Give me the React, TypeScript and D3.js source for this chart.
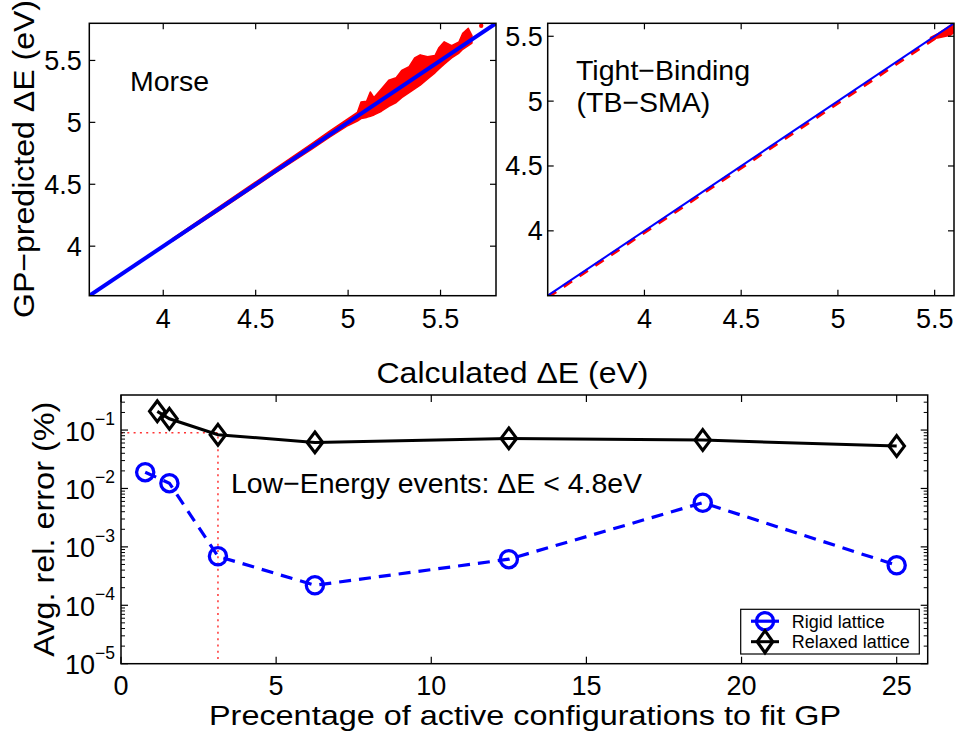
import React from "react";
import * as d3 from "d3";

// ---------- data ----------
// Top-left (Morse): red scatter band (calculated dE, predicted lo/hi)
const morseX = [4.05, 4.3, 4.6, 4.8, 4.9, 5.0, 5.05, 5.07, 5.1, 5.12, 5.14, 5.18, 5.22, 5.26, 5.29, 5.33, 5.36, 5.39, 5.43, 5.47, 5.49, 5.52, 5.56, 5.6, 5.62, 5.65, 5.67];
const morseHi = [4.062, 4.315, 4.62, 4.825, 4.93, 5.03, 5.08, 5.165, 5.17, 5.245, 5.2, 5.27, 5.34, 5.36, 5.42, 5.45, 5.52, 5.545, 5.53, 5.54, 5.6, 5.65, 5.62, 5.65, 5.72, 5.76, 5.7];
const morseLo = [4.04, 4.285, 4.585, 4.78, 4.88, 4.975, 5.01, 5.03, 5.04, 5.05, 5.06, 5.09, 5.13, 5.16, 5.2, 5.24, 5.27, 5.3, 5.35, 5.4, 5.43, 5.47, 5.52, 5.56, 5.59, 5.62, 5.64];
const morseOutX = [5.72];
const morseOutY = [5.78];
const morseDiag = [3.6, 5.8];

// Top-right (TB-SMA)
const tbRedX = [3.5, 5.6];
const tbRedY = [3.49, 5.585];
const tbBandX = [5.48, 5.52, 5.55, 5.58, 5.6];
const tbBandLo = [5.48, 5.49, 5.5, 5.51, 5.53];
const tbBandHi = [5.49, 5.52, 5.55, 5.58, 5.6];
const tbDiag = [3.5, 5.6];

const topTicks = [4, 4.5, 5, 5.5];

// Bottom panel
const pctRigid = [0.78, 1.56, 3.125, 6.25, 12.5, 18.75, 25];
const errRigid = [0.019, 0.0123, 6.9e-4, 2.2e-4, 6.15e-4, 5.7e-3, 4.85e-4];
const pctRelaxed = [1.17, 1.56, 3.125, 6.25, 12.5, 18.75, 25];
const errRelaxed = [0.209, 0.156, 0.083, 0.0615, 0.072, 0.0674, 0.0532];
const guideX = [0, 3.125, 3.125];
const guideY = [0.09, 0.09, 1e-5];
const bottomXTicks = [0, 5, 10, 15, 20, 25];
const bottomYExps = [-5, -4, -3, -2, -1];
const legendLabels = ["Rigid lattice", "Relaxed lattice"];

const FONT = "'Liberation Sans', Arial, Helvetica, sans-serif";

function Frame({ xs, ys, xt, yt, tl, fmt, yLabelGap }: any) {
  const [x0, x1] = xs.range();
  const [y0, y1] = ys.range(); // y0 bottom, y1 top
  const els: any[] = [];
  xt.forEach((v: number, i: number) => {
    const x = xs(v);
    els.push(<line key={"xb" + i} x1={x} x2={x} y1={y0} y2={y0 - tl} stroke="#000" strokeWidth={1.2} />);
    els.push(<line key={"xt" + i} x1={x} x2={x} y1={y1} y2={y1 + tl} stroke="#000" strokeWidth={1.2} />);
    els.push(
      <text key={"xl" + i} x={x} y={y0 + 32.5} textAnchor="middle" fontSize={27} fontFamily={FONT}>
        {fmt(v)}
      </text>
    );
  });
  yt.forEach((v: number, i: number) => {
    const y = ys(v);
    els.push(<line key={"yl" + i} x1={x0} x2={x0 + tl} y1={y} y2={y} stroke="#000" strokeWidth={1.2} />);
    els.push(<line key={"yr" + i} x1={x1} x2={x1 - tl} y1={y} y2={y} stroke="#000" strokeWidth={1.2} />);
    els.push(
      <text key={"ytl" + i} x={x0 - yLabelGap} y={y + 9.5} textAnchor="end" fontSize={27} fontFamily={FONT}>
        {fmt(v)}
      </text>
    );
  });
  return (
    <g>
      {els}
      <rect x={x0} y={y1} width={x1 - x0} height={y0 - y1} fill="none" stroke="#000" strokeWidth={1.5} />
    </g>
  );
}

function diamond(cx: number, cy: number, w: number, h: number) {
  return `M${cx},${cy - h}L${cx + w},${cy}L${cx},${cy + h}L${cx - w},${cy}Z`;
}

export default function App() {
  // Top-left
  const tlX = d3.scaleLinear().domain([3.6, 5.8]).range([89.3, 496]);
  const tlY = d3.scaleLinear().domain([3.6, 5.8]).range([295.7, 23.3]);
  // Top-right
  const trX = d3.scaleLinear().domain([3.5, 5.6]).range([547.7, 954]);
  const trY = d3.scaleLinear().domain([3.5, 5.6]).range([295.7, 23.3]);
  // Bottom
  const bX = d3.scaleLinear().domain([0, 26]).range([121, 927.7]);
  const bY = d3.scaleLog().domain([1e-5, Math.pow(10, -0.4)]).range([663.7, 395]);

  const fmt = (v: number) => String(v);

  const morseArea = d3
    .area<number>()
    .x((_, i) => tlX(morseX[i]))
    .y0((_, i) => tlY(morseLo[i]))
    .y1((_, i) => tlY(morseHi[i]))
    .curve(d3.curveLinear)(morseX);

  const tbArea = d3
    .area<number>()
    .x((_, i) => trX(tbBandX[i]))
    .y0((_, i) => trY(tbBandLo[i]))
    .y1((_, i) => trY(tbBandHi[i]))(tbBandX);

  const lineRigid = d3.line<number>().x((_, i) => bX(pctRigid[i])).y((_, i) => bY(errRigid[i]))(pctRigid);
  const lineRelaxed = d3.line<number>().x((_, i) => bX(pctRelaxed[i])).y((_, i) => bY(errRelaxed[i]))(pctRelaxed);
  const lineGuide = d3.line<number>().x((_, i) => bX(guideX[i])).y((_, i) => bY(guideY[i]))(guideX);

  // minor log ticks
  const minor: number[] = [];
  for (let e = -5; e <= -1; e++) {
    for (let k = 2; k <= 9; k++) {
      const v = k * Math.pow(10, e);
      if (v < bY.domain()[1]) minor.push(v);
    }
  }

  const [bx0, bx1] = bX.range();
  const [by0, by1] = bY.range();

  return (
    <svg
      width={958}
      height={740}
      style={{ position: "absolute", left: 0, top: 0, background: "#fff" }}
      fontFamily={FONT}
    >
      <defs>
        <clipPath id="cTL">
          <rect x={89.3} y={23.3} width={496 - 89.3} height={295.7 - 23.3} />
        </clipPath>
        <clipPath id="cTR">
          <rect x={547.7} y={23.3} width={954 - 547.7} height={295.7 - 23.3} />
        </clipPath>
      </defs>
      <rect x={0} y={0} width={958} height={740} fill="#fff" />

      {/* ---- Top-left: Morse ---- */}
      <g clipPath="url(#cTL)">
        <path d={morseArea || ""} fill="#ff0000" stroke="#ff0000" strokeWidth={1.5} strokeLinejoin="round" />
        {morseOutX.map((v, i) => (
          <circle key={i} cx={tlX(v)} cy={tlY(morseOutY[i])} r={2.2} fill="#ff0000" />
        ))}
        <line
          x1={tlX(morseDiag[0])}
          y1={tlY(morseDiag[0])}
          x2={tlX(morseDiag[1])}
          y2={tlY(morseDiag[1])}
          stroke="#0000ff"
          strokeWidth={4}
        />
      </g>
      <Frame xs={tlX} ys={tlY} xt={topTicks} yt={topTicks} tl={6} fmt={fmt} yLabelGap={7.5} />
      <text x={130} y={91} fontSize={28.5} fontFamily={FONT}>Morse</text>

      {/* ---- Top-right: TB-SMA ---- */}
      <g clipPath="url(#cTR)">
        <line
          x1={trX(tbRedX[0])}
          y1={trY(tbRedY[0])}
          x2={trX(tbRedX[1])}
          y2={trY(tbRedY[1])}
          stroke="#ff0000"
          strokeWidth={3.5}
          strokeDasharray="10 9"
        />
        <path d={tbArea || ""} fill="#ff0000" stroke="#ff0000" strokeWidth={2} />
        <line
          x1={trX(tbDiag[0])}
          y1={trY(tbDiag[0])}
          x2={trX(tbDiag[1])}
          y2={trY(tbDiag[1])}
          stroke="#0000ff"
          strokeWidth={2}
        />
      </g>
      <Frame xs={trX} ys={trY} xt={topTicks} yt={topTicks} tl={6} fmt={fmt} yLabelGap={5} />
      <text x={576} y={80} fontSize={28.5} fontFamily={FONT}>Tight−Binding</text>
      <text x={576.5} y={112} fontSize={28.5} fontFamily={FONT}>(TB−SMA)</text>

      {/* shared labels for top row */}
      <text
        transform={`translate(34,159) rotate(-90)`}
        textAnchor="middle"
        fontSize={30}
        fontFamily={FONT}
        textLength={318}
        lengthAdjust="spacingAndGlyphs"
      >
        GP−predicted ΔE (eV)
      </text>
      <text
        x={512.5}
        y={383}
        textAnchor="middle"
        fontSize={30}
        fontFamily={FONT}
        textLength={272}
        lengthAdjust="spacingAndGlyphs"
      >
        Calculated ΔE (eV)
      </text>

      {/* ---- Bottom panel ---- */}
      <path d={lineGuide || ""} fill="none" stroke="#ff0000" strokeWidth={1.5} strokeDasharray="2 4.3" opacity={0.8} />
      {/* ticks */}
      {bottomXTicks.map((v, i) => (
        <g key={"bx" + i}>
          <line x1={bX(v)} x2={bX(v)} y1={by0} y2={by0 - 7} stroke="#000" strokeWidth={1.2} />
          <line x1={bX(v)} x2={bX(v)} y1={by1} y2={by1 + 7} stroke="#000" strokeWidth={1.2} />
          <text x={bX(v)} y={by0 + 30.8} textAnchor="middle" fontSize={27} fontFamily={FONT}>
            {v}
          </text>
        </g>
      ))}
      {bottomYExps.map((e, i) => {
        const y = bY(Math.pow(10, e));
        return (
          <g key={"by" + i}>
            <line x1={bx0} x2={bx0 + 7} y1={y} y2={y} stroke="#000" strokeWidth={1.2} />
            <line x1={bx1} x2={bx1 - 7} y1={y} y2={y} stroke="#000" strokeWidth={1.2} />
            <text x={95} y={y + 10.5} textAnchor="end" fontSize={27} fontFamily={FONT}>
              10
            </text>
            <text x={95} y={y - 5} textAnchor="start" fontSize={17.5} fontFamily={FONT}>
              {"−" + Math.abs(e)}
            </text>
          </g>
        );
      })}
      {minor.map((v, i) => (
        <g key={"mn" + i}>
          <line x1={bx0} x2={bx0 + 4} y1={bY(v)} y2={bY(v)} stroke="#000" strokeWidth={1} />
          <line x1={bx1} x2={bx1 - 4} y1={bY(v)} y2={bY(v)} stroke="#000" strokeWidth={1} />
        </g>
      ))}

      <path d={lineRelaxed || ""} fill="none" stroke="#000" strokeWidth={3} />
      <path d={lineRigid || ""} fill="none" stroke="#0000ff" strokeWidth={3.2} strokeDasharray="12 8" />
      {pctRigid.map((v, i) => (
        <circle key={"c" + i} cx={bX(v)} cy={bY(errRigid[i])} r={8.6} fill="none" stroke="#0000ff" strokeWidth={3.3} />
      ))}
      {pctRelaxed.map((v, i) => (
        <path key={"d" + i} d={diamond(bX(v), bY(errRelaxed[i]), 7.8, 10.4)} fill="none" stroke="#000" strokeWidth={3.1} />
      ))}

      <rect x={bx0} y={by1} width={bx1 - bx0} height={by0 - by1} fill="none" stroke="#000" strokeWidth={1.5} />

      <text
        x={231}
        y={493}
        fontSize={28.5}
        fontFamily={FONT}
        textLength={411}
        lengthAdjust="spacingAndGlyphs"
      >
        Low−Energy events: ΔE {"<"} 4.8eV
      </text>

      {/* legend */}
      <rect x={740.7} y={609.3} width={178.6} height={44.7} fill="#fff" stroke="#000" strokeWidth={1.2} />
      <line x1={751} x2={779} y1={621.2} y2={621.2} stroke="#0000ff" strokeWidth={3.2} />
      <circle cx={765} cy={621.2} r={8.6} fill="none" stroke="#0000ff" strokeWidth={3.3} />
      <line x1={751} x2={779} y1={641.7} y2={641.7} stroke="#000" strokeWidth={3} />
      <path d={diamond(765, 641.7, 7.8, 11)} fill="none" stroke="#000" strokeWidth={3.1} />
      <text x={791.7} y={627.5} fontSize={18} fontFamily={FONT}>{legendLabels[0]}</text>
      <text x={791.7} y={647.5} fontSize={18} fontFamily={FONT}>{legendLabels[1]}</text>

      {/* bottom labels */}
      <text
        transform={`translate(53.5,529.2) rotate(-90)`}
        textAnchor="middle"
        fontSize={30}
        fontFamily={FONT}
        textLength={255}
        lengthAdjust="spacingAndGlyphs"
      >
        Avg. rel. error (%)
      </text>
      <text
        x={525}
        y={725}
        textAnchor="middle"
        fontSize={27.5}
        fontFamily={FONT}
        textLength={632}
        lengthAdjust="spacingAndGlyphs"
      >
        Precentage of active configurations to fit GP
      </text>
    </svg>
  );
}
